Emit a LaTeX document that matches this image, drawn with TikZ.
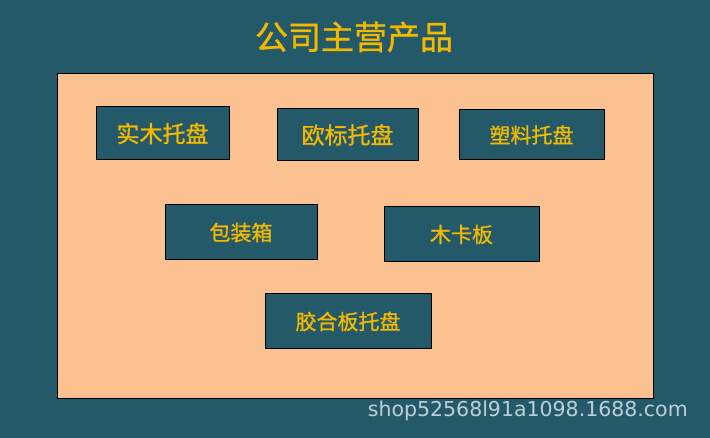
\documentclass[tikz,border=0pt]{standalone}
\usepackage{fontspec}
\newfontfamily\cjk[FakeBold=1]{Noto Sans CJK SC}
\newfontfamily\wmfont{DejaVu Sans}
\definecolor{bgteal}{RGB}{35,89,105}
\definecolor{peach}{RGB}{251,193,144}
\definecolor{gold}{RGB}{243,184,0}
\definecolor{wmgrey}{RGB}{190,206,214}
\begin{document}
\begin{tikzpicture}[x=1pt,y=-1pt,
  prodbox/.style={draw=black,line width=1pt,fill=bgteal,inner sep=0pt},
  prodtext/.style={text=gold,font=\cjk\fontsize{21}{21}\selectfont,inner sep=0pt}]
\fill[bgteal] (0,0) rectangle (710,438);
\useasboundingbox (0,0) rectangle (710,438);
\node[prodtext,font=\cjk\fontsize{33}{33}\selectfont] (title) at (354,37) {公司主营产品};
\draw[draw=black,line width=1pt,fill=peach] (57,74) rectangle (653,399);
\node[prodbox,minimum width=133,minimum height=53] (b1) at (162.5,133.5) {};
\node[prodtext,font=\cjk\fontsize{23}{23}\selectfont] at (b1) {实木托盘};
\node[prodbox,minimum width=141,minimum height=52] (b2) at (347.5,135) {};
\node[prodtext,font=\cjk\fontsize{23}{23}\selectfont] at (b2) {欧标托盘};
\node[prodbox,minimum width=145,minimum height=50] (b3) at (531.5,135) {};
\node[prodtext] at (b3) {塑料托盘};
\node[prodbox,minimum width=152,minimum height=55] (b4) at (241,232.5) {};
\node[prodtext] at (b4) {包装箱};
\node[prodbox,minimum width=155,minimum height=55] (b5) at (461.5,234.5) {};
\node[prodtext] at (b5) {木卡板};
\node[prodbox,minimum width=166,minimum height=55] (b6) at (348,321.5) {};
\node[prodtext] at (b6) {胶合板托盘};
\node[text=wmgrey,font=\wmfont\fontsize{20.5}{20.5}\selectfont,inner sep=0pt,anchor=east] (wm) at (688,411) {shop52568l91a1098.1688.com};
\end{tikzpicture}
\end{document}
